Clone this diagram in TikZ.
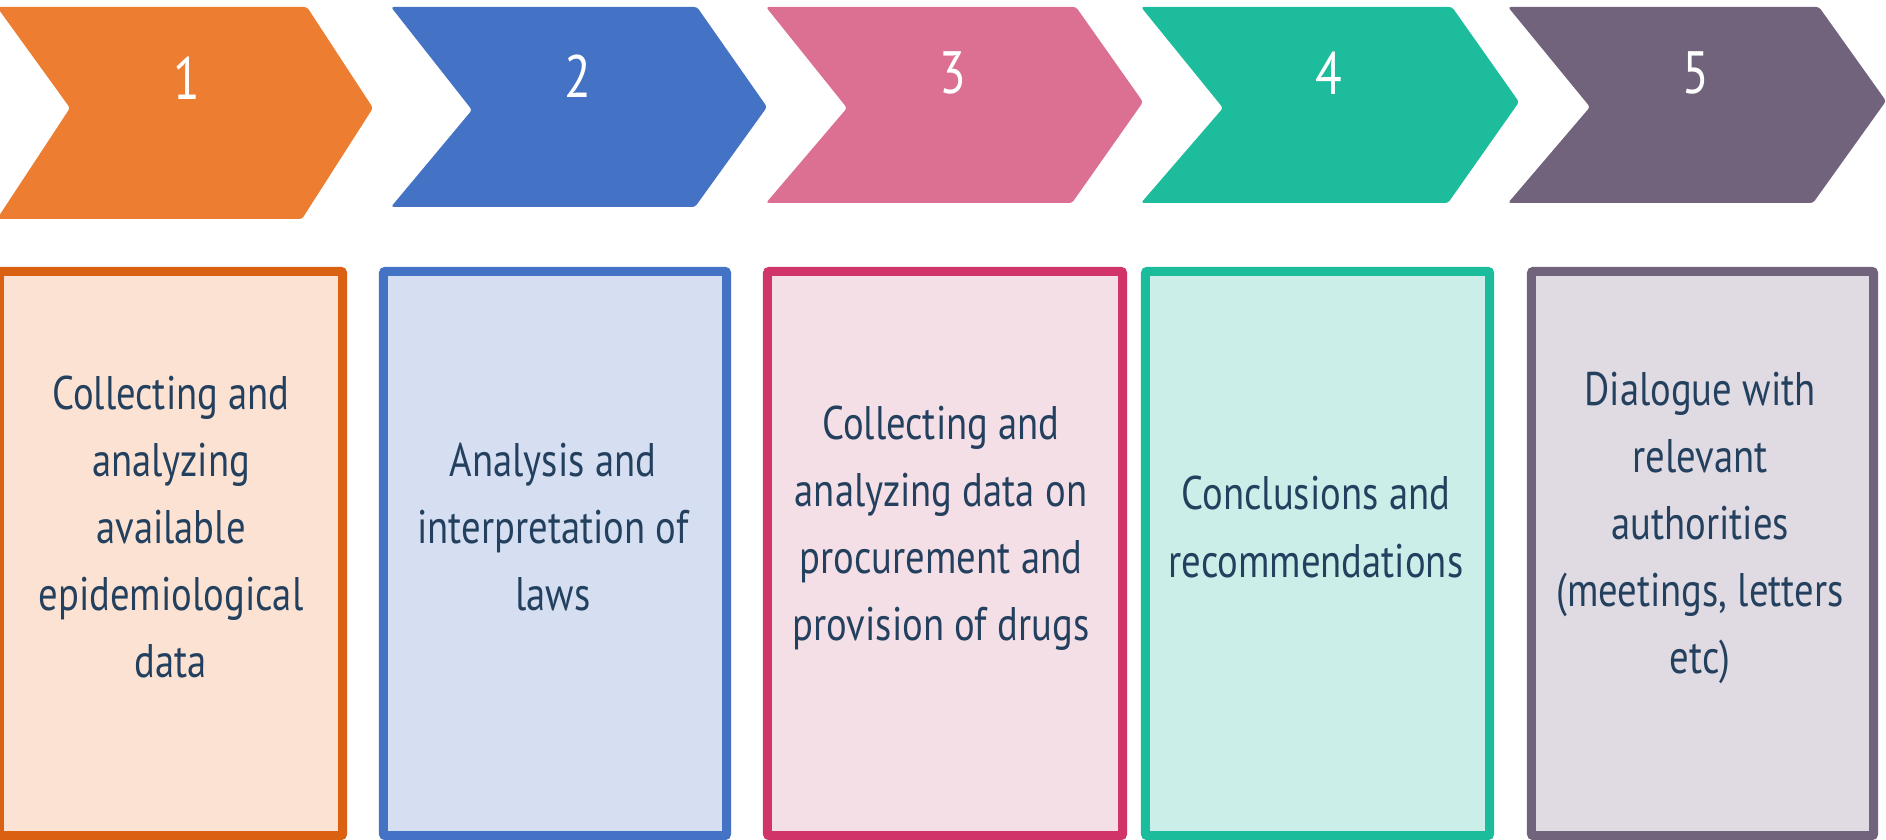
\documentclass[tikz,border=0pt]{standalone}
\usepackage{fontspec}
\setmainfont{PT Sans}[FakeStretch=0.82]
\definecolor{cOne}{HTML}{ED7D31}
\definecolor{cTwo}{HTML}{4472C4}
\definecolor{cThree}{HTML}{DC7093}
\definecolor{cFour}{HTML}{1CBC9C}
\definecolor{cFive}{HTML}{71637C}
\definecolor{bOne}{HTML}{DA6012}
\definecolor{fOne}{HTML}{FBE2D3}
\definecolor{bTwo}{HTML}{4472C4}
\definecolor{fTwo}{HTML}{D5DFF1}
\definecolor{bThree}{HTML}{D03468}
\definecolor{fThree}{HTML}{F5DFE6}
\definecolor{bFour}{HTML}{1ABC9C}
\definecolor{fFour}{HTML}{CCEEE8}
\definecolor{bFive}{HTML}{71637C}
\definecolor{fFive}{HTML}{E0DBE2}
\definecolor{navy}{HTML}{24405F}
\begin{document}
\begin{tikzpicture}[x=0.01cm,y=-0.01cm,
  chev/.style={rounded corners=0.8pt},
  pbox/.style={draw, line width=2.56pt, rounded corners=0.6pt, inner sep=0pt, minimum height=5.64cm},
  body/.style={text=navy, font=\fontsize{13.4}{19.06}\selectfont, align=center, inner sep=0pt},
  num/.style={text=white, font=\fontsize{17}{20}\selectfont, anchor=base, inner sep=0pt}]
\useasboundingbox (0,0) rectangle (1886,840);
\clip (0,0) rectangle (1886,840);
% chevrons
\fill[cOne, chev] (-3,7) -- (307,7) -- (373,108) -- (302,219) -- (-3,219) -- (70,108) -- cycle;
\fill[cTwo, chev] (391,7) -- (697,7) -- (767,107) -- (695,207) -- (391,207) -- (472,110) -- cycle;
\fill[cThree, chev] (766,7) -- (1076,7) -- (1143,102) -- (1072,203) -- (766,203) -- (847,108) -- cycle;
\fill[cFour, chev] (1141,7) -- (1452,7) -- (1519,102) -- (1448,203) -- (1141,203) -- (1223,108) -- cycle;
\fill[cFive, chev] (1508,7) -- (1819,7) -- (1886,101) -- (1813,203) -- (1508,203) -- (1590,107) -- cycle;
\node[num] (n1) at (187,100) {1};
\node[num] (n2) at (578,98) {2};
\node[num] (n3) at (953,94) {3};
\node[num] (n4) at (1329,95) {4};
\node[num] (n5) at (1696,94) {5};
% boxes
\node[pbox, draw=bOne, fill=fOne, minimum width=3.43cm] (b1) at (171,553.5) {};
\node[pbox, draw=bTwo, fill=fTwo, minimum width=3.43cm] (b2) at (555,553.5) {};
\node[pbox, draw=bThree, fill=fThree, minimum width=3.55cm] (b3) at (945,553.5) {};
\node[pbox, draw=bFour, fill=fFour, minimum width=3.44cm] (b4) at (1317.5,553.5) {};
\node[pbox, draw=bFive, fill=fFive, minimum width=3.42cm] (b5) at (1702.5,553.5) {};
% texts
\node[body] (t1) at (171,527) {Collecting and\\analyzing\\available\\epidemiological\\data};
\node[body] (t2) at (553,527) {Analysis and\\interpretation of\\laws};
\node[body] (t3) at (941,528) {Collecting and\\analyzing data on\\procurement and\\provision of drugs};
\node[body] (t4) at (1316,527) {Conclusions and\\recommendations};
\node[body] (t5) at (1700,528) {Dialogue with\\relevant\\authorities\\(meetings, letters\\etc)};
\end{tikzpicture}
\end{document}
